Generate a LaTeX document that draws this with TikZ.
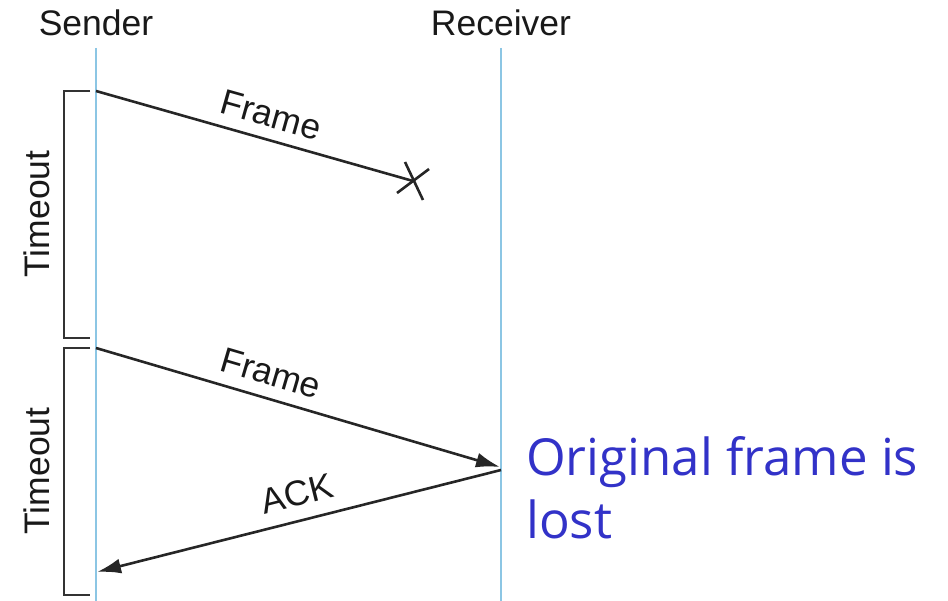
\documentclass[tikz,border=0pt]{standalone}
\usepackage{fontspec}
\setmainfont{Liberation Sans}
\newfontfamily\notefont{Open Sans}
\usetikzlibrary{arrows.meta}
\definecolor{lifeblue}{RGB}{140,198,228}
\definecolor{noteblue}{RGB}{50,50,200}
\tikzset{
  lifeline/.style={draw=lifeblue, line width=2.4pt},
  msg/.style={draw=black!85, line width=2.6pt},
  arr/.style={msg, -{Latex[length=24pt,width=15pt]}},
  bracketline/.style={draw=black!80, line width=2.4pt},
  lbl/.style={font=\fontsize{35.5}{40}\selectfont, text=black!90, inner sep=0pt},
  note/.style={font=\notefont\fontsize{51}{63}\selectfont, text=noteblue, align=left, inner sep=0pt, anchor=north west}
}
\begin{document}
\begin{tikzpicture}[x=1pt,y=-1pt]
\useasboundingbox (0,0) rectangle (948,601);
% lifelines
\coordinate (s0) at (96,48);
\coordinate (s1) at (96,601);
\coordinate (r0) at (501,48);
\coordinate (r1) at (501,601);
\draw[lifeline] (s0) -- (s1);
\draw[lifeline] (r0) -- (r1);
\node[lbl] (sender) at (96,23) {Sender};
\node[lbl] (receiver) at (501,23) {Receiver};
% brackets
\coordinate (b1a) at (90,91);
\coordinate (b1b) at (90,338);
\coordinate (b2a) at (90,348);
\coordinate (b2b) at (90,595);
\draw[bracketline] (b1a) -- ++(-26,0) |- (b1b);
\draw[bracketline] (b2a) -- ++(-26,0) |- (b2b);
\node[lbl, rotate=90] (t1) at (37,214) {Timeout};
\node[lbl, rotate=90] (t2) at (37,471) {Timeout};
% lost frame
\coordinate (f1s) at (96,91);
\coordinate (f1e) at (413,181);
\draw[msg] (f1s) -- (f1e);
\coordinate (x1a) at (405,162);
\coordinate (x1b) at (423,200);
\coordinate (x2a) at (397,193);
\coordinate (x2b) at (429,169);
\draw[msg] (x1a) -- (x1b);
\draw[msg] (x2a) -- (x2b);
\node[lbl, rotate=-15.7] (fl1) at (271,115) {Frame};
% retransmitted frame
\coordinate (f2s) at (96,348);
\coordinate (f2e) at (500,467);
\draw[arr] (f2s) -- (f2e);
\node[lbl, rotate=-16.4] (fl2) at (271,373) {Frame};
% ack
\coordinate (as) at (501,470);
\coordinate (ae) at (97,572);
\draw[arr] (as) -- (ae);
\node[lbl, rotate=14.1] (al) at (297,494) {ACK};
% note
\node[note] (nt) at (526,436) {Original frame is\\lost};
\end{tikzpicture}
\end{document}
